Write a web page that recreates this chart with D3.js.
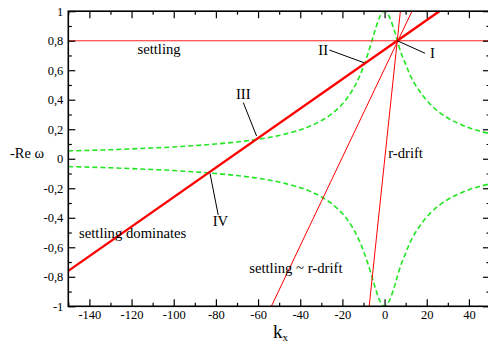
<!DOCTYPE html>
<html>
<head>
<meta charset="utf-8">
<script src="https://cdn.jsdelivr.net/npm/d3@7"></script>
<style>
  html, body { margin: 0; padding: 0; background: #fff; }
  svg { display: block; }
  text { font-family: "Liberation Serif", "Times New Roman", serif; fill: #000; }
</style>
</head>
<body>
<svg id="chart" width="488" height="342"></svg>
<script>
// ---------- data ----------
const xMajorTicks = [-140, -120, -100, -80, -60, -40, -20, 0, 20, 40];
const xTickLabels = ["-140", "-120", "-100", "-80", "-60", "-40", "-20", "0", "20", "40"];
const xMinorTicks = [-150, -130, -110, -90, -70, -50, -30, -10, 10, 30, 50];
const yMajorTicks = [-1, -0.8, -0.6, -0.4, -0.2, 0, 0.2, 0.4, 0.6, 0.8, 1];
const yTickLabels = ["-1", "-0,8", "-0,6", "-0,4", "-0,2", "0", "0,2", "0,4", "0,6", "0,8", "1"];
const yMinorTicks = [-0.9, -0.7, -0.5, -0.3, -0.1, 0.1, 0.3, 0.5, 0.7, 0.9];

// green dashed branch (upper); lower branch is its mirror
const greenK = [-150, -140, -130, -120, -110, -100, -90, -80, -70, -60, -50, -40, -35, -30, -25, -20, -17, -14, -12, -10, -8, -6, -5, -4, -3, -2, -1, 0,
                1, 2, 3, 4, 5, 6, 8, 10, 12, 14, 17, 20, 25, 30, 35, 40, 45, 50];
const greenUpper = [0.053, 0.057, 0.061, 0.067, 0.073, 0.080, 0.089, 0.100, 0.114, 0.132, 0.158, 0.196, 0.223, 0.258, 0.305, 0.371, 0.426, 0.496, 0.555, 0.625, 0.707, 0.800, 0.848, 0.894, 0.936, 0.970, 0.992, 1.000,
                    0.992, 0.970, 0.937, 0.896, 0.853, 0.800, 0.710, 0.640, 0.570, 0.515, 0.451, 0.395, 0.325, 0.276, 0.239, 0.210, 0.188, 0.170];
const greenLower = greenUpper.map(v => -v);

// straight red lines (end points)
const settlingK = [-150, 50];       const settlingV = [0.8, 0.8];
const dominatesK = [-150, 26];      const dominatesV = [-0.76, 1.0];
const mixedK = [-53.7, 13.0];       const mixedV = [-1, 1];
const rdriftK = [-7.3, 7.5];        const rdriftV = [-1, 1];

// annotations (data coordinates)
const labelTexts = ["settling", "settling dominates", "settling ~ r-drift", "r-drift", "I", "II", "III", "IV"];
const labelK =     [-117.2, -144.9, -64.2, 1.7, 21.5, -31.4, -70.5, -81.5];
const labelV =     [0.71, -0.537, -0.774, 0.003, 0.683, 0.703, 0.405, -0.459];
const leaderK0 = [6, -26.2, -67, -82.8];
const leaderV0 = [0.8, 0.737, 0.380, -0.099];
const leaderK1 = [19.2, -9.8, -60.7, -78.9];
const leaderV1 = [0.715, 0.651, 0.154, -0.381];

// ---------- drawing ----------
const svg = d3.select("#chart");
const L = 68.3, R = 490, T = 11.2, B = 306.3;
const x = d3.scaleLinear().domain([-150, 50]).range([L, R]);
const y = d3.scaleLinear().domain([-1, 1]).range([B, T]);

svg.append("defs").append("clipPath").attr("id", "clip")
  .append("rect").attr("x", L).attr("y", T).attr("width", R - L).attr("height", B - T);

const plot = svg.append("g").attr("clip-path", "url(#clip)");
const line = d3.line().x(d => x(d[0])).y(d => y(d[1]));
const smooth = d3.line().x(d => x(d[0])).y(d => y(d[1])).curve(d3.curveCatmullRom.alpha(0.5));
const zip = (a, b) => a.map((v, i) => [v, b[i]]);

// green dashed curves
[greenUpper, greenLower].forEach(vals => {
  plot.append("path").attr("d", smooth(zip(greenK, vals)))
    .attr("fill", "none").attr("stroke", "#22e622").attr("stroke-width", 1.6)
    .attr("stroke-dasharray", "5,3");
});

// red lines
plot.append("path").attr("d", line(zip(settlingK, settlingV)))
  .attr("fill", "none").attr("stroke", "#ff2020").attr("stroke-width", 1.1);
plot.append("path").attr("d", line(zip(mixedK, mixedV)))
  .attr("fill", "none").attr("stroke", "#ff0000").attr("stroke-width", 1);
plot.append("path").attr("d", line(zip(rdriftK, rdriftV)))
  .attr("fill", "none").attr("stroke", "#ff0000").attr("stroke-width", 1);
plot.append("path").attr("d", line(zip(dominatesK, dominatesV)))
  .attr("fill", "none").attr("stroke", "#ff0000").attr("stroke-width", 2.4);

// leader lines
leaderK0.forEach((k, i) => {
  svg.append("line")
    .attr("x1", x(k)).attr("y1", y(leaderV0[i]))
    .attr("x2", x(leaderK1[i])).attr("y2", y(leaderV1[i]))
    .attr("stroke", "#000").attr("stroke-width", 1);
});

// labels
labelTexts.forEach((t, i) => {
  svg.append("text").attr("x", x(labelK[i])).attr("y", y(labelV[i]))
    .attr("font-size", "14.7px").text(t);
});

// axes
function styleAxis(g) {
  g.select(".domain").remove();
  g.selectAll(".tick line").attr("stroke", "#000").attr("stroke-width", 1.2);
  g.selectAll(".tick text").attr("font-family", "Liberation Serif").attr("font-size", "12.5px").attr("fill", "#000");
}
const xFmt = d => xTickLabels[xMajorTicks.indexOf(d)];
const yFmt = d => yTickLabels[yMajorTicks.indexOf(d)];

svg.append("g").attr("transform", `translate(0,${B})`)
  .call(d3.axisBottom(x).tickValues(xMajorTicks).tickFormat(xFmt).tickSizeInner(-7).tickSizeOuter(0).tickPadding(4))
  .call(styleAxis);
svg.append("g").attr("transform", `translate(0,${B})`)
  .call(d3.axisBottom(x).tickValues(xMinorTicks).tickFormat("").tickSizeInner(-3.5).tickSizeOuter(0))
  .call(styleAxis);
svg.append("g").attr("transform", `translate(0,${T})`)
  .call(d3.axisTop(x).tickValues(xMajorTicks).tickFormat("").tickSizeInner(-7).tickSizeOuter(0))
  .call(styleAxis);
svg.append("g").attr("transform", `translate(0,${T})`)
  .call(d3.axisTop(x).tickValues(xMinorTicks).tickFormat("").tickSizeInner(-3.5).tickSizeOuter(0))
  .call(styleAxis);
svg.append("g").attr("transform", `translate(${L},0)`)
  .call(d3.axisLeft(y).tickValues(yMajorTicks).tickFormat(yFmt).tickSizeInner(-7).tickSizeOuter(0).tickPadding(5))
  .call(styleAxis);
svg.append("g").attr("transform", `translate(${L},0)`)
  .call(d3.axisLeft(y).tickValues(yMinorTicks).tickFormat("").tickSizeInner(-3.5).tickSizeOuter(0))
  .call(styleAxis);
svg.append("g").attr("transform", `translate(${R},0)`)
  .call(d3.axisRight(y).tickValues(yMajorTicks).tickFormat("").tickSizeInner(-7).tickSizeOuter(0))
  .call(styleAxis);
svg.append("g").attr("transform", `translate(${R},0)`)
  .call(d3.axisRight(y).tickValues(yMinorTicks).tickFormat("").tickSizeInner(-3.5).tickSizeOuter(0))
  .call(styleAxis);

// frame
svg.append("rect").attr("x", L).attr("y", T).attr("width", R - L).attr("height", B - T)
  .attr("fill", "none").attr("stroke", "#000").attr("stroke-width", 1.6);

// axis titles
svg.append("text").attr("x", 10).attr("y", 158).attr("font-size", "14.5px").text("-Re ω");
const kx = svg.append("text").attr("x", 273).attr("y", 338.3).attr("font-size", "19px");
kx.append("tspan").text("k");
kx.append("tspan").attr("font-size", "11px").attr("dy", "3").text("x");
</script>
</body>
</html>
